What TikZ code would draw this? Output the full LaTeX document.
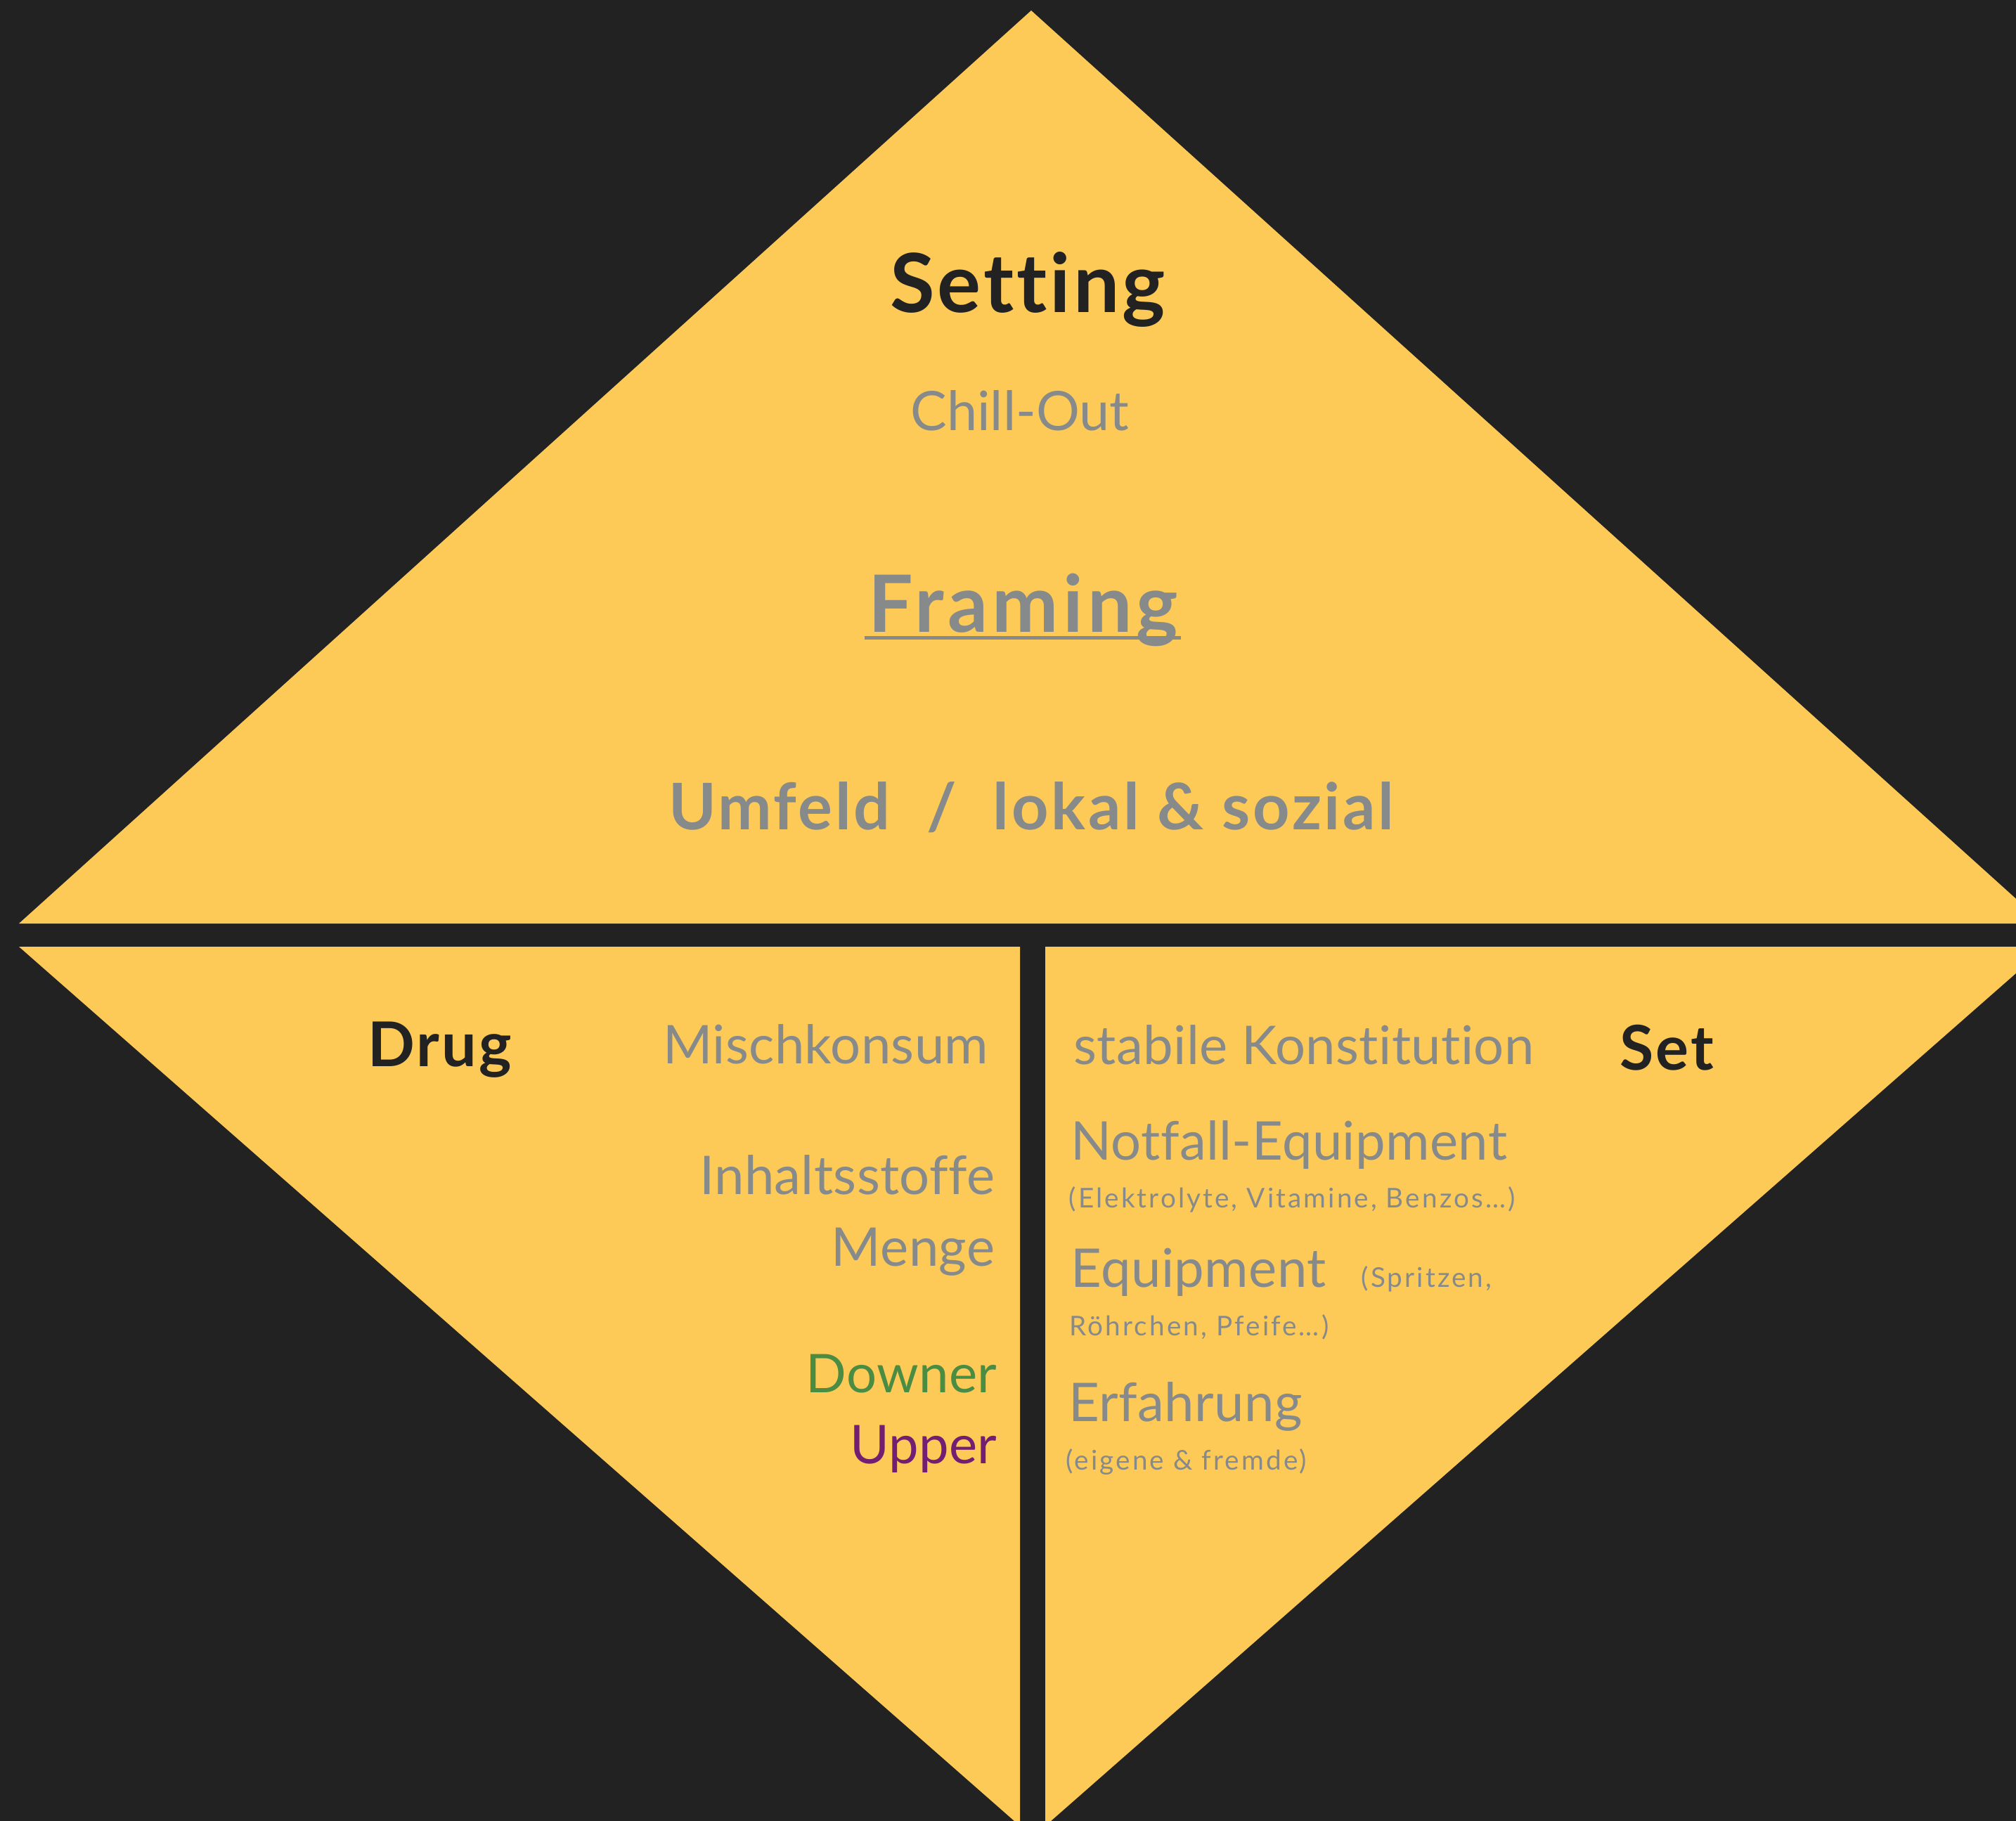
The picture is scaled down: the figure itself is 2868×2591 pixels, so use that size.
\documentclass[tikz,border=0pt]{standalone}
\usepackage{fontspec}
\setmainfont{Lato}[Ligatures={TeX,NoCommon}]
\usepackage{xcolor}
\usetikzlibrary{positioning}
\definecolor{darkbg}{HTML}{222222}
\definecolor{mango}{HTML}{FDCA58}
\definecolor{slate}{HTML}{878A8B}
\definecolor{leaf}{HTML}{4B8C43}
\definecolor{plum}{HTML}{731D73}

\begin{document}
\begin{tikzpicture}[
x=0.01cm, y=-0.01cm,
headline/.style={inner sep=0pt, font=\bfseries\fontsize{25}{25}\selectfont\addfontfeature{LetterSpace=3.5}, text=darkbg},
entry/.style={inner sep=0pt, font=\fontsize{21.6}{21.6}\selectfont\addfontfeature{LetterSpace=0.5}, text=slate},
note/.style={inner sep=0pt, font=\fontsize{11}{11}\selectfont\addfontfeature{LetterSpace=8}, text=slate},
piece/.style={fill=mango}]
    % Background
    \useasboundingbox (0,0) rectangle (2868,2591);
    \fill[darkbg] (0,0) rectangle (2868,2591);

    \draw
    (1467,15) coordinate (apex)
    (27,1314) coordinate (topL)
    (2907,1314) coordinate (topR)
    (27,1347) coordinate (lowL)
    (1451,1347) coordinate (midL)
    (1451,2598) coordinate (botL)
    (1487,1347) coordinate (midR)
    (2911,1347) coordinate (lowR)
    (1487,2598) coordinate (botR);

    % Three pieces of the diamond
    \begin{scope}
    \clip (0,0) rectangle (2868,2591);
    \fill[piece] (apex) -- (topR) -- (topL) -- cycle;
    \fill[piece] (lowL) -- (midL) -- (botL) -- cycle;
    \fill[piece] (midR) -- (lowR) -- (botR) -- cycle;
    \end{scope}

    % Setting
    \node[headline, font=\bfseries\fontsize{33}{33}\selectfont\addfontfeature{LetterSpace=3.5}, anchor=base] (setting) at (1462,445) {Setting};
    \node[entry, font=\fontsize{22}{22}\selectfont, anchor=base] (chill) at (1451,613) {Chill-Out};
    \node[headline, font=\bfseries\fontsize{32}{32}\selectfont\addfontfeature{LetterSpace=5.5}, text=slate, anchor=base] (framing) at (1456,899) {Framing};
    \draw[slate, line width=1.4pt] ([xshift=-1.4pt,yshift=-2.3pt]framing.base west) -- ([xshift=1pt,yshift=-2.3pt]framing.base east);
    \node[headline, font=\bfseries\fontsize{26}{26}\selectfont\addfontfeature{LetterSpace=4}, text=slate, anchor=base] (umfeld) at (1467,1180) {Umfeld~~/~~lokal \& sozial};

    % Drug
    \node[headline, anchor=base west] (drug) at (523,1517) {Drug};
    \node[entry, anchor=base east] (misch) at (1407,1513) {Mischkonsum};
    \node[entry, anchor=base east] (inhalt) at (1416,1699) {Inhaltsstoffe};
    \node[entry, anchor=base east] (menge) at (1416,1801) {Menge};
    \node[entry, text=leaf, anchor=base east] (downer) at (1419,1981) {Downer};
    \node[entry, text=plum, anchor=base east] (upper) at (1419,2082) {Upper};

    % Set
    \node[headline, anchor=base west] (set) at (2304,1522) {Set};
    \node[entry, anchor=base west] (stabil) at (1527,1514) {stabile Konstitution};
    \node[entry, anchor=base west] (notfall) at (1523,1650) {Notfall-Equipment};
    \node[note, anchor=base west] (notfallx) at (1520,1718) {(Elektrolyte, Vitamine, Benzos…)};
    \node[entry, anchor=base west] (equip) at (1523,1831) {Equipment};
    \node[note, anchor=base west] (equipx) at (1936,1831) {(Spritzen,};
    \node[note, anchor=base west] (equipy) at (1521,1900) {Röhrchen, Pfeife…)};
    \node[entry, anchor=base west] (erfahr) at (1520,2022) {Erfahrung};
    \node[note, anchor=base west] (erfahrx) at (1516,2091) {(eigene \& fremde)};

\end{tikzpicture}
\end{document}
